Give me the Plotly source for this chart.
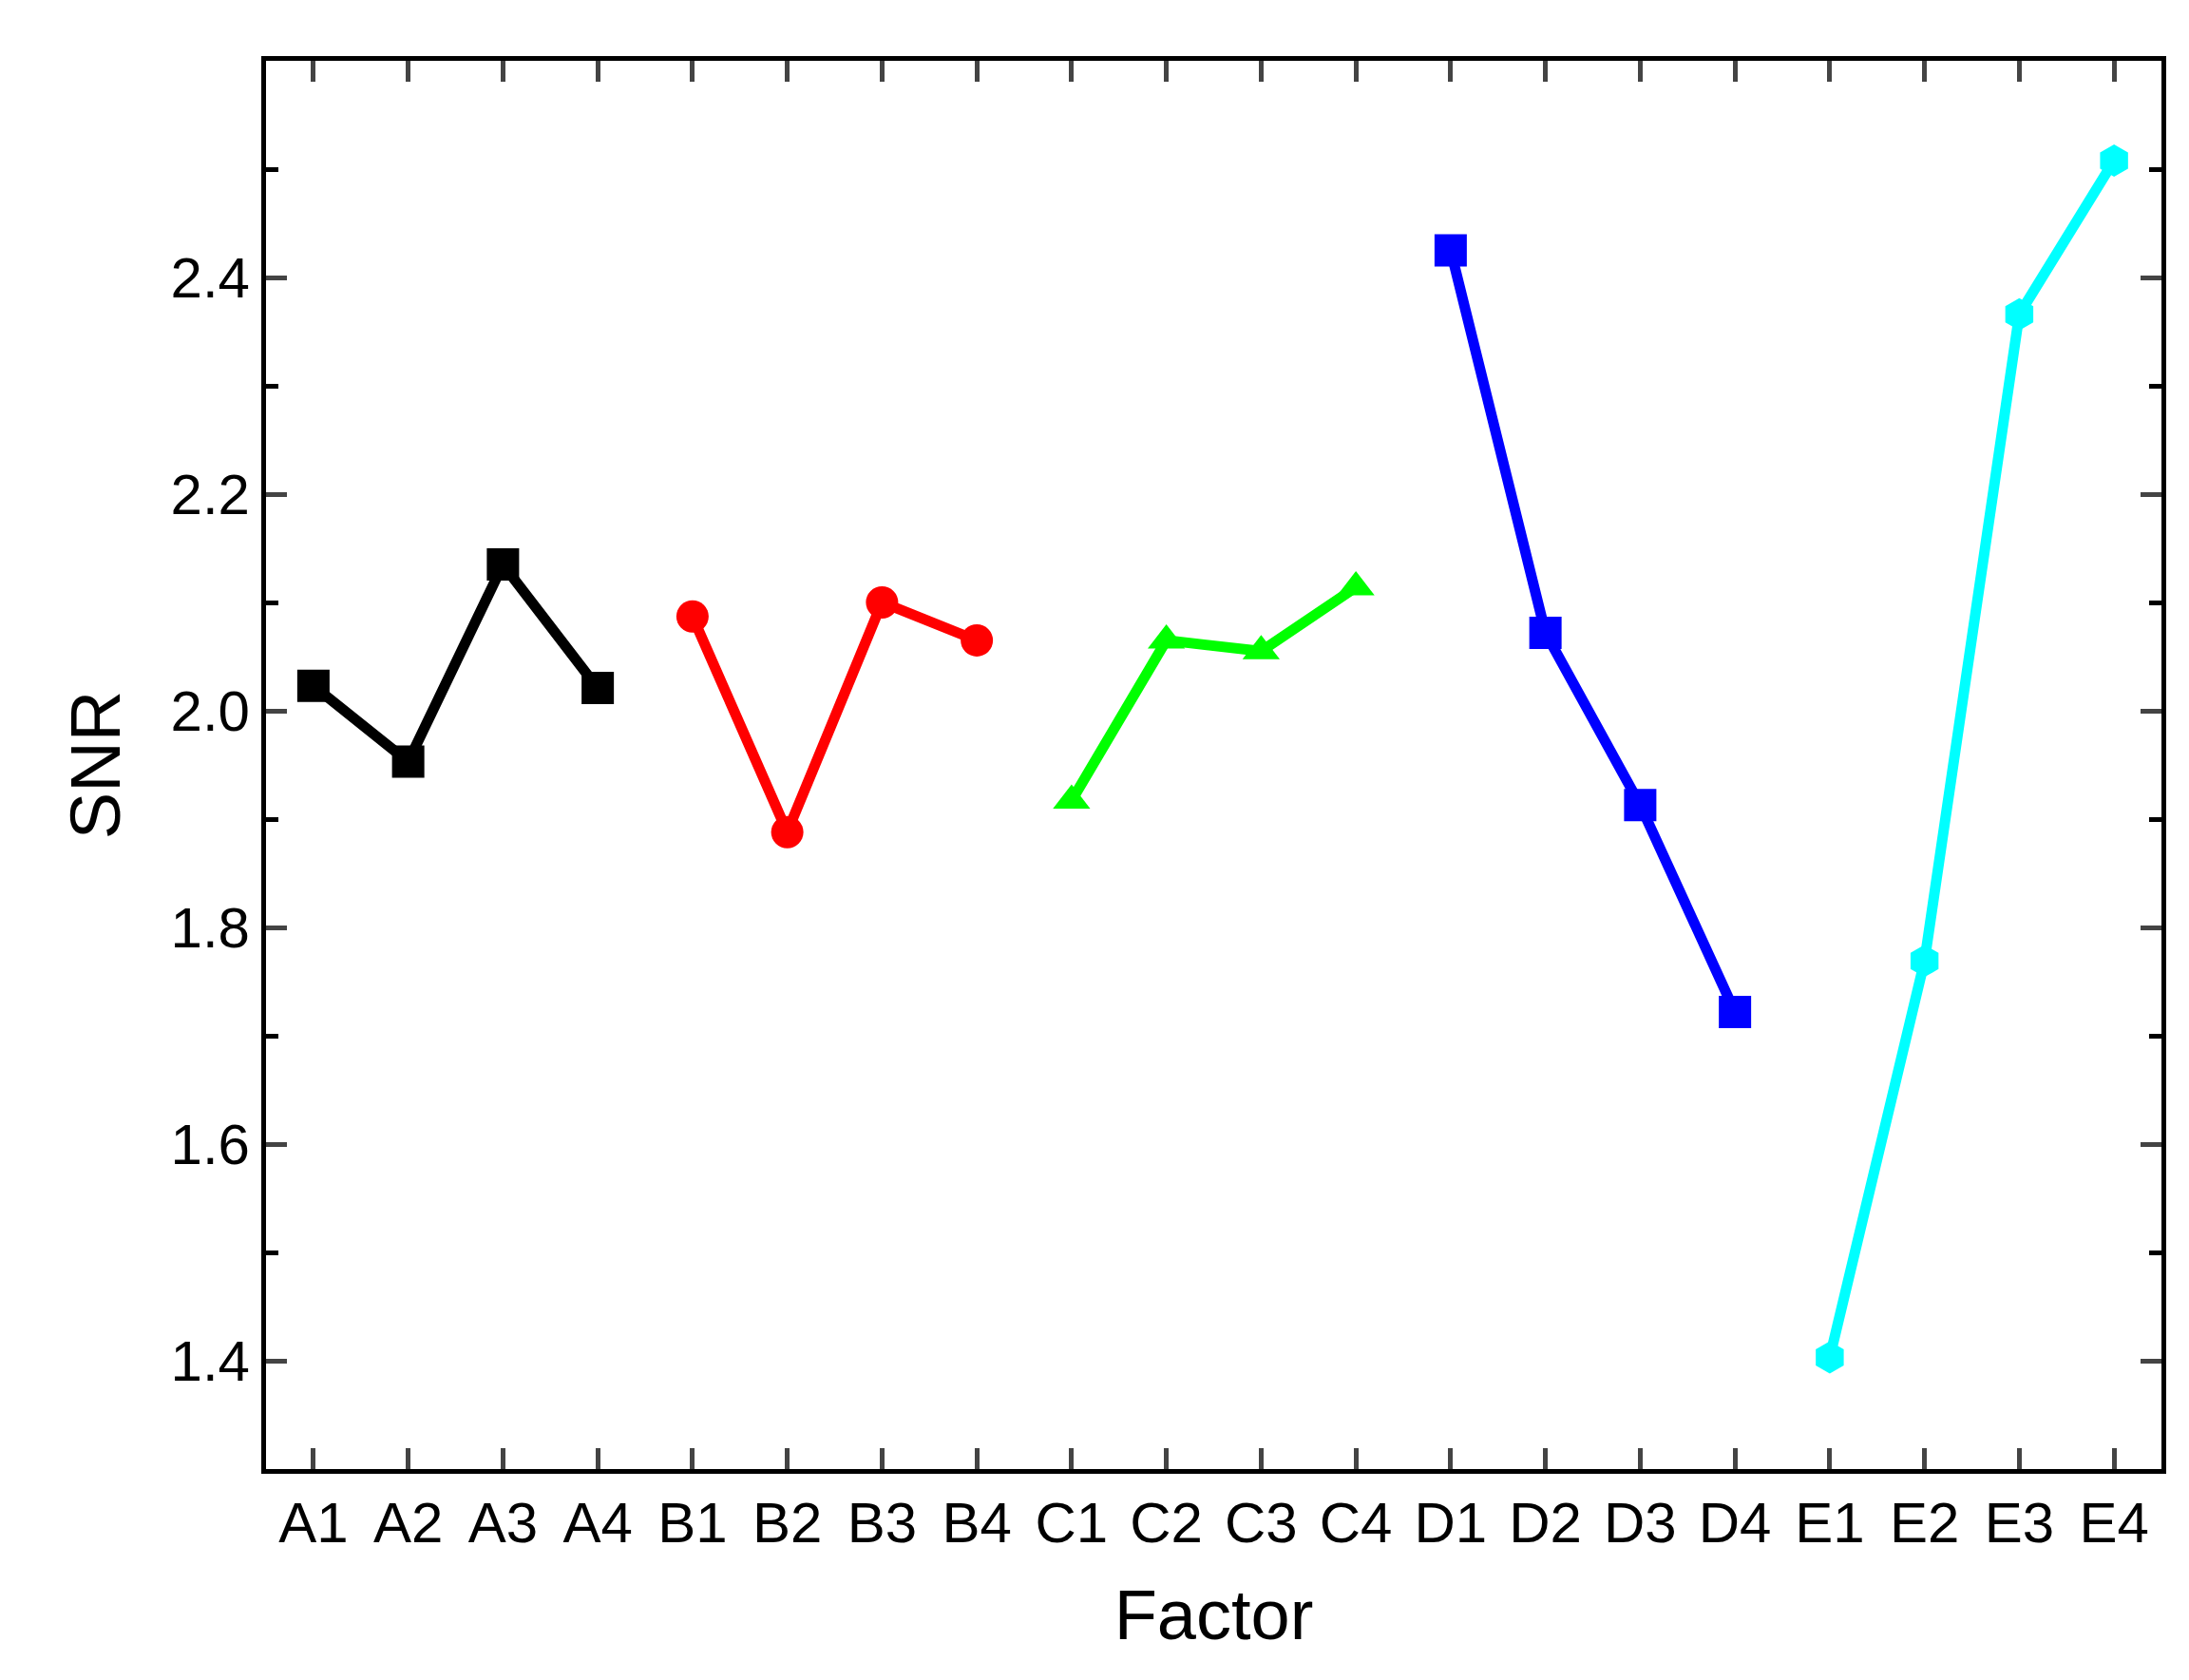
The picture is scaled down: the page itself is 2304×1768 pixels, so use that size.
import plotly.graph_objects as go

labels = ["A1","A2","A3","A4","B1","B2","B3","B4","C1","C2","C3","C4","D1","D2","D3","D4","E1","E2","E3","E4"]
A = [2.023, 1.953, 2.135, 2.021]
B = [2.087, 1.888, 2.100, 2.065]
C = [1.917, 2.065, 2.055, 2.114]
D = [2.425, 2.072, 1.913, 1.722]
E = [1.403, 1.769, 2.366, 2.508]
yticks = [1.4, 1.6, 1.8, 2.0, 2.2, 2.4]

series = [(A, "black", "square"), (B, "red", "circle"), (C, "#00ff00", "triangle-up"),
          (D, "blue", "square"), (E, "cyan", "hexagon")]

fig = go.Figure()
for i, (vals, col, sym) in enumerate(series):
    fig.add_trace(go.Scatter(x=labels[4*i:4*i+4], y=vals, mode="lines+markers",
                             line=dict(color=col, width=11),
                             marker=dict(color=col, symbol=sym, size=34), showlegend=False))

fig.update_layout(width=2304, height=1768, plot_bgcolor="white", paper_bgcolor="white",
                  margin=dict(l=272, r=37, t=56, b=230),
                  font=dict(family="Liberation Sans, Arial", color="black", size=60))
fig.update_xaxes(type="category", categoryorder="array", categoryarray=labels, range=[-0.5, 19.5],
                 showline=True, linecolor="black", linewidth=5, mirror="ticks",
                 ticks="inside", ticklen=22, tickwidth=5, showgrid=False,
                 title=dict(text="Factor", font=dict(size=74), standoff=40))
fig.update_yaxes(range=[1.3, 2.6], tickvals=yticks, tickformat=".1f",
                 showline=True, linecolor="black", linewidth=5, mirror="ticks",
                 ticks="inside", ticklen=22, tickwidth=5, showgrid=False, zeroline=False,
                 minor=dict(dtick=0.1, tick0=1.3, ticks="inside", ticklen=13, tickwidth=5, tickcolor="black"),
                 title=dict(text="SNR", font=dict(size=74), standoff=30))
fig.write_html("out.html")
